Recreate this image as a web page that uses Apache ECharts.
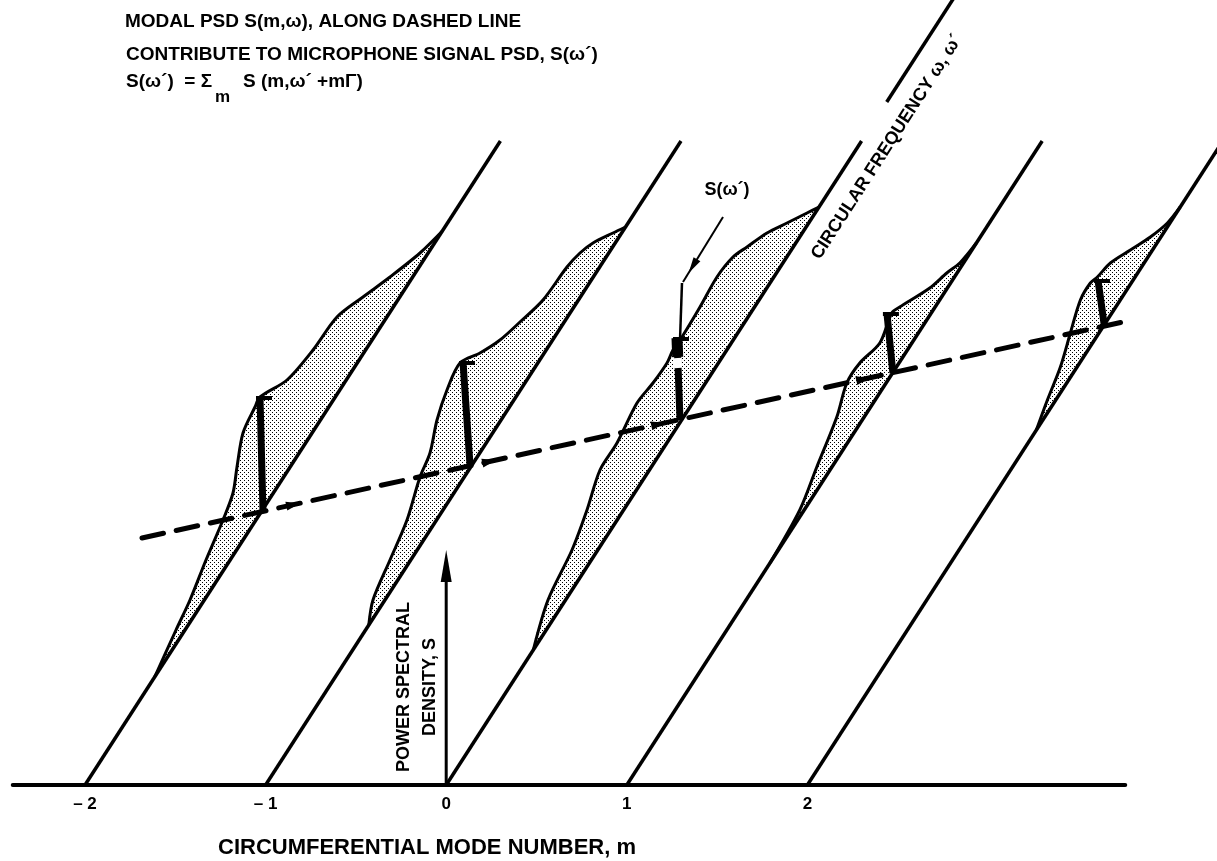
<!DOCTYPE html>
<html><head><meta charset="utf-8">
<script src="https://cdn.jsdelivr.net/npm/echarts@6/dist/echarts.min.js"></script>
<style>html,body{margin:0;padding:0;background:#fff}#c{width:1217px;height:861px}</style>
</head><body><div id="c"></div>
<script>
// ---------------- data (m units horizontally, arbitrary height units vertically) ----------------
const modeNumbers = [-2, -1, 0, 1, 2];
const tickText = {'-2': '– 2', '-1': '– 1', '0': '0', '1': '1', '2': '2'};
const freqLineTop = 644;             // height where each frequency line ends
const freqSlant = 1 / 280;           // shift in m per unit of height along a frequency line
const freqAxisSegment = [683, 800];  // detached upper part of the m = 0 frequency axis
const psdJoins = [[108, 554], [160, 558], [135, 578], [222, 542], [355, 578]];
const psdCurveMinus2 = [[-1.4961,155],[-1.4186,185],[-1.3300,225],[-1.2359,265],[-1.1805,292],[-1.1584,318],[-1.1251,352],[-1.0587,378],[-1.0310,388],[-0.8815,405],[-0.7375,435],[-0.6047,468],[-0.4607,488],[-0.3112,508],[-0.1451,532]];
const psdCurveMinus1 = [[-0.4053,185],[-0.3112,225],[-0.2171,265],[-0.1451,308],[-0.0897,332],[-0.0509,365],[0.0044,395],[0.0764,422],[0.1871,432],[0.2979,445],[0.4086,463],[0.5360,485],[0.6689,518],[0.7409,532],[0.8129,542],[0.9236,552]];
const psdCurve0 = [[0.5637,185],[0.6966,235],[0.7796,275],[0.8516,315],[0.9457,342],[1.0565,382],[1.1451,402],[1.2226,422],[1.2558,435],[1.3056,448],[1.4053,478],[1.4994,508],[1.5880,528],[1.6656,538],[1.7763,552],[1.8870,562],[1.9978,572]];
const psdCurve1 = [[1.9579,275],[2.0520,318],[2.1628,368],[2.2182,402],[2.2901,422],[2.4009,442],[2.4673,472],[2.5116,478],[2.6777,497],[2.7719,512],[2.8439,522]];
const psdCurve2 = [[3.3289,385],[3.4008,418],[3.4562,452],[3.5116,485],[3.5669,502],[3.6057,508],[3.6777,522],[3.7885,535],[3.8992,548],[3.9934,562]];
const psdCurves = [psdCurveMinus2, psdCurveMinus1, psdCurve0, psdCurve1, psdCurve2];
const barBottoms = [[-1.0144,273],[0.1318,320],[1.2946,365],[2.4734,412],[3.6450,458]];
const barTops = [[-1.0310,388],[0.0930,423],[1.2779,447],[2.4402,472],[3.6090,505]];
const barGaps = [null, null, [417, 427], null, null];
const dashedLine = [[-1.6844,247],[4.0742,476]];
const dashArrowM = [-0.8095, 0.2757, 1.2115, 2.3466];
const psdAxis = [[0,0],[0,235]];
const pointerLine = [[1.5327,568],[1.3112,503]];
const pointerStem = [[1.3056,502],[1.2946,445]];
const labelSOmega = [1.5548, 595];
const labelCircFreq = [2.4408, 638];
const labelPower = [[-0.2337, 98], [-0.0897, 98]];

// ---------------- helpers ----------------
function linePoint(m, h) { return [m + h * freqSlant, h]; }
function arrowHead(tip, from, len, wid) {
  const dx = tip[0] - from[0], dy = tip[1] - from[1];
  const L = Math.hypot(dx, dy) || 1, ux = dx / L, uy = dy / L, nx = -uy, ny = ux;
  const bx = tip[0] - ux * len, by = tip[1] - uy * len;
  return [tip, [bx + nx * wid / 2, by + ny * wid / 2], [bx - nx * wid / 2, by - ny * wid / 2]];
}
const tile = document.createElement('canvas'); tile.width = 4; tile.height = 4;
const tctx = tile.getContext('2d');
tctx.fillStyle = '#fff'; tctx.fillRect(0, 0, 4, 4);
tctx.fillStyle = '#000'; tctx.fillRect(0, 0, 1, 1); tctx.fillRect(2, 2, 1, 1);
const stipple = {image: tile, repeat: 'repeat'};
const FONT = '"Liberation Sans", Arial, sans-serif';

const chart = echarts.init(document.getElementById('c'), null, {renderer: 'canvas'});
chart.setOption({
  animation: false,
  backgroundColor: '#fff',
  grid: {left: 12.76, right: 91.74, top: 0, bottom: 76, containLabel: false, outerBoundsMode: 'none'},
  xAxis: {
    type: 'value', min: -2.4, max: 3.76, interval: 0.2,
    axisLine: {show: true, onZero: false, lineStyle: {color: '#000', width: 4}},
    axisTick: {show: false}, splitLine: {show: false},
    axisLabel: {
      interval: 0, margin: 11, color: '#000', fontSize: 17, fontWeight: 'bold', fontFamily: FONT,
      formatter: v => { const r = Math.round(v); return Math.abs(v - r) < 1e-6 && tickText[String(r)] ? tickText[String(r)] : ''; }
    }
  },
  yAxis: {type: 'value', min: 0, max: 785, show: false},
  graphic: [
    {type: 'text', x: 125, y: 22, style: {text: 'MODAL PSD S(m,ω), ALONG DASHED LINE', font: 'bold 19px ' + FONT, fill: '#000', verticalAlign: 'middle'}},
    {type: 'text', x: 126, y: 55, style: {text: 'CONTRIBUTE TO MICROPHONE SIGNAL PSD, S(ω´)', font: 'bold 19px ' + FONT, fill: '#000', verticalAlign: 'middle'}},
    {type: 'text', x: 126, y: 82, style: {text: 'S(ω´)  = Σ', font: 'bold 19px ' + FONT, fill: '#000', verticalAlign: 'middle'}},
    {type: 'text', x: 215, y: 97, style: {text: 'm', font: 'bold 17px ' + FONT, fill: '#000', verticalAlign: 'middle'}},
    {type: 'text', x: 243, y: 82, style: {text: 'S (m,ω´ +mΓ)', font: 'bold 19px ' + FONT, fill: '#000', verticalAlign: 'middle'}},
    {type: 'text', x: 218, y: 848, style: {text: 'CIRCUMFERENTIAL MODE NUMBER, m', font: 'bold 22px ' + FONT, fill: '#000', verticalAlign: 'middle'}}
  ],
  series: [
    { // shaded modal PSD shapes
      type: 'custom', name: 'psd', z: 2, clip: false,
      data: modeNumbers.map((m, i) => [m, i]),
      renderItem: (params, api) => {
        const i = params.dataIndex, m = modeNumbers[i], j = psdJoins[i];
        const outline = [linePoint(m, j[0])].concat(psdCurves[i], [linePoint(m, j[1])]).map(p => api.coord(p));
        const back = [];
        for (let k = 1; k < 6; k++) back.push(api.coord(linePoint(m, j[1] - (j[1] - j[0]) * k / 6)));
        return {type: 'group', children: [
          {type: 'polygon', shape: {points: outline.concat(back), smooth: 0.3}, style: {fill: stipple, stroke: null}},
          {type: 'polyline', shape: {points: outline, smooth: 0.3}, style: {stroke: '#000', lineWidth: 3, fill: null, lineJoin: 'round'}}
        ]};
      }
    },
    { // frequency lines
      type: 'custom', name: 'freqLines', z: 3, clip: false,
      data: modeNumbers.map((m, i) => [m, i]),
      renderItem: (params, api) => {
        const m = modeNumbers[params.dataIndex];
        const a = api.coord([m, 0]), b = api.coord(linePoint(m, freqLineTop));
        return {type: 'line', shape: {x1: a[0], y1: a[1], x2: b[0], y2: b[1]}, style: {stroke: '#000', lineWidth: 3.5}};
      }
    },
    { // detached top of frequency axis
      type: 'custom', name: 'freqAxis', z: 3, clip: false, data: [[0, 0]],
      renderItem: (params, api) => {
        const a = api.coord(linePoint(0, freqAxisSegment[0])), b = api.coord(linePoint(0, freqAxisSegment[1]));
        return {type: 'line', shape: {x1: a[0], y1: a[1], x2: b[0], y2: b[1]}, style: {stroke: '#000', lineWidth: 3.5}};
      }
    },
    { // dashed line
      type: 'line', name: 'dashed', z: 4, symbol: 'none', data: dashedLine,
      lineStyle: {color: '#000', width: 5, type: [22, 13], cap: 'round'}
    },
    { // arrowheads on dashed line
      type: 'custom', name: 'dashArrows', z: 5, clip: false,
      data: dashArrowM.map(m => [m, dashedLine[0][1] + (m - dashedLine[0][0]) * (dashedLine[1][1] - dashedLine[0][1]) / (dashedLine[1][0] - dashedLine[0][0])]),
      renderItem: (params, api) => {
        const p = api.coord([api.value(0), api.value(1)]);
        const q = api.coord(dashedLine[0]);
        return {type: 'polygon', shape: {points: arrowHead(p, q, 14, 9)}, style: {fill: '#000'}};
      }
    },
    { // vertical PSD bars
      type: 'custom', name: 'bars', z: 6, clip: false,
      data: modeNumbers.map((m, i) => [m, i]),
      renderItem: (params, api) => {
        const i = params.dataIndex;
        const a = api.coord(barBottoms[i]), b = api.coord(barTops[i]);
        const kids = [
          {type: 'line', shape: {x1: a[0], y1: a[1], x2: b[0], y2: b[1]}, style: {stroke: '#000', lineWidth: 7}},
          {type: 'line', shape: {x1: b[0] - 4, y1: b[1] + 1, x2: b[0] + 12, y2: b[1] + 1}, style: {stroke: '#000', lineWidth: 4}}
        ];
        if (barGaps[i]) {
          const t0 = (barGaps[i][0] - barBottoms[i][1]) / (barTops[i][1] - barBottoms[i][1]);
          const t1 = (barGaps[i][1] - barBottoms[i][1]) / (barTops[i][1] - barBottoms[i][1]);
          const g0 = [a[0] + (b[0] - a[0]) * t0, a[1] + (b[1] - a[1]) * t0];
          const g1 = [a[0] + (b[0] - a[0]) * t1, a[1] + (b[1] - a[1]) * t1];
          kids.push({type: 'line', shape: {x1: g0[0], y1: g0[1], x2: g1[0], y2: g1[1]}, style: {stroke: '#fff', lineWidth: 8}});
          kids.push({type: 'line', shape: {x1: g1[0], y1: g1[1] - 1, x2: b[0], y2: b[1]}, style: {stroke: '#000', lineWidth: 11}});
        }
        return {type: 'group', children: kids};
      }
    },
    { // power spectral density axis arrow
      type: 'custom', name: 'psdAxis', z: 6, clip: false, data: [[0, 0]],
      renderItem: (params, api) => {
        const a = api.coord(psdAxis[0]), b = api.coord(psdAxis[1]);
        return {type: 'group', children: [
          {type: 'line', shape: {x1: a[0], y1: a[1], x2: b[0], y2: b[1] + 20}, style: {stroke: '#000', lineWidth: 3}},
          {type: 'polygon', shape: {points: arrowHead(b, a, 32, 11)}, style: {fill: '#000'}}
        ]};
      }
    },
    { // pointer to S(omega')
      type: 'custom', name: 'pointer', z: 6, clip: false, data: [[0, 0]],
      renderItem: (params, api) => {
        const a = api.coord(pointerLine[0]), b = api.coord(pointerLine[1]);
        const s0 = api.coord(pointerStem[0]), s1 = api.coord(pointerStem[1]);
        const tip = [a[0] + (b[0] - a[0]) * 0.86, a[1] + (b[1] - a[1]) * 0.86];
        return {type: 'group', children: [
          {type: 'line', shape: {x1: a[0], y1: a[1], x2: b[0], y2: b[1]}, style: {stroke: '#000', lineWidth: 2}},
          {type: 'polygon', shape: {points: arrowHead(tip, a, 16, 8)}, style: {fill: '#000'}},
          {type: 'line', shape: {x1: s0[0], y1: s0[1], x2: s1[0], y2: s1[1]}, style: {stroke: '#000', lineWidth: 2.5}}
        ]};
      }
    },
    { // in-plot labels
      type: 'custom', name: 'labels', z: 7, clip: false, data: [[0, 0], [1, 0], [2, 0], [3, 0]],
      renderItem: (params, api) => {
        const i = params.dataIndex;
        const specs = [
          {p: labelSOmega, text: 'S(ω´)', rot: 0},
          {p: labelCircFreq, text: 'CIRCULAR FREQUENCY ω, ω´', rot: Math.atan2(1, 180.6 * freqSlant)},
          {p: labelPower[0], text: 'POWER SPECTRAL', rot: Math.PI / 2},
          {p: labelPower[1], text: 'DENSITY, S', rot: Math.PI / 2}
        ];
        const s = specs[i], c = api.coord(s.p);
        return {type: 'text', x: c[0], y: c[1], rotation: s.rot,
          style: {text: s.text, font: 'bold 18px ' + FONT, fill: '#000', align: 'center', verticalAlign: 'middle'}};
      }
    }
  ]
});
</script></body></html>
